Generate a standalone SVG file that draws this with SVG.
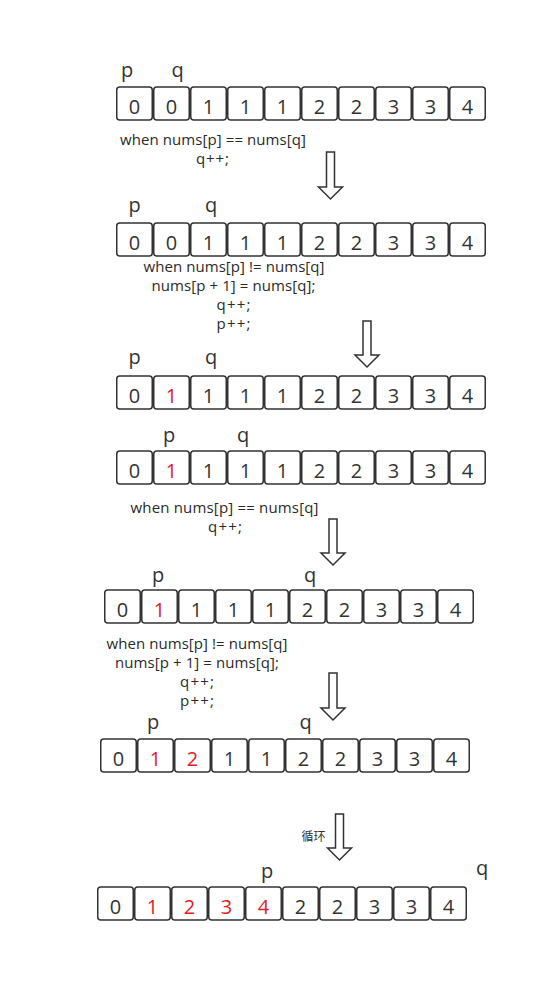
<svg xmlns="http://www.w3.org/2000/svg" width="560" height="983" viewBox="0 0 560 983">
<style>
.c{fill:#fff;stroke:#333;stroke-width:1.5}
.d{font-family:"Open Sans","Noto Sans",sans-serif;font-size:20px;fill:#333;text-anchor:middle}
.r{fill:#e3201e}
.pq{font-family:"Open Sans","Noto Sans",sans-serif;font-size:20px;fill:#333;text-anchor:middle}
.t{font-family:"Open Sans","Noto Sans",sans-serif;font-size:15px;fill:#2a2a2a}
.cn{font-family:"Noto Sans CJK SC","Noto Sans",sans-serif;font-size:12px;fill:#333}
.a{fill:#fff;stroke:#333;stroke-width:1.5;stroke-linejoin:miter}
</style>
<defs>
<g id="cell"><rect class="c" x="0.75" y="0" width="35.5" height="33" rx="3"/></g>
</defs>
<rect width="560" height="983" fill="#fff"/>

<g id="row1" transform="translate(116,87)">
<use href="#cell" x="0"/><use href="#cell" x="37"/><use href="#cell" x="74"/><use href="#cell" x="111"/><use href="#cell" x="148"/><use href="#cell" x="185"/><use href="#cell" x="222"/><use href="#cell" x="259"/><use href="#cell" x="296"/><use href="#cell" x="333"/>
<text class="d" x="18.5" y="26.5">0</text><text class="d" x="55.5" y="26.5">0</text><text class="d" x="92.5" y="26.5">1</text><text class="d" x="129.5" y="26.5">1</text><text class="d" x="166.5" y="26.5">1</text><text class="d" x="203.5" y="26.5">2</text><text class="d" x="240.5" y="26.5">2</text><text class="d" x="277.5" y="26.5">3</text><text class="d" x="314.5" y="26.5">3</text><text class="d" x="351.5" y="26.5">4</text>
</g>
<g id="ptr1"><text class="pq" x="127" y="77">p</text><text class="pq" x="177.5" y="77">q</text></g>
<g id="note1">
<text class="t" x="120" y="145" textLength="186">when nums[p] == nums[q]</text>
<text class="t" x="196" y="164" textLength="33">q++;</text>
</g>

<g id="row2" transform="translate(116,223)">
<use href="#cell" x="0"/><use href="#cell" x="37"/><use href="#cell" x="74"/><use href="#cell" x="111"/><use href="#cell" x="148"/><use href="#cell" x="185"/><use href="#cell" x="222"/><use href="#cell" x="259"/><use href="#cell" x="296"/><use href="#cell" x="333"/>
<text class="d" x="18.5" y="26.5">0</text><text class="d" x="55.5" y="26.5">0</text><text class="d" x="92.5" y="26.5">1</text><text class="d" x="129.5" y="26.5">1</text><text class="d" x="166.5" y="26.5">1</text><text class="d" x="203.5" y="26.5">2</text><text class="d" x="240.5" y="26.5">2</text><text class="d" x="277.5" y="26.5">3</text><text class="d" x="314.5" y="26.5">3</text><text class="d" x="351.5" y="26.5">4</text>
</g>
<g id="ptr2"><text class="pq" x="134.5" y="212">p</text><text class="pq" x="211" y="212">q</text></g>
<g id="note2">
<text class="t" x="143.5" y="272" textLength="181">when nums[p] != nums[q]</text>
<text class="t" x="151.5" y="291" textLength="164">nums[p + 1] = nums[q];</text>
<text class="t" x="216.5" y="310" textLength="34">q++;</text>
<text class="t" x="216.5" y="329" textLength="34">p++;</text>
</g>

<g id="row3" transform="translate(116,376)">
<use href="#cell" x="0"/><use href="#cell" x="37"/><use href="#cell" x="74"/><use href="#cell" x="111"/><use href="#cell" x="148"/><use href="#cell" x="185"/><use href="#cell" x="222"/><use href="#cell" x="259"/><use href="#cell" x="296"/><use href="#cell" x="333"/>
<text class="d" x="18.5" y="26.5">0</text><text class="d r" x="55.5" y="26.5">1</text><text class="d" x="92.5" y="26.5">1</text><text class="d" x="129.5" y="26.5">1</text><text class="d" x="166.5" y="26.5">1</text><text class="d" x="203.5" y="26.5">2</text><text class="d" x="240.5" y="26.5">2</text><text class="d" x="277.5" y="26.5">3</text><text class="d" x="314.5" y="26.5">3</text><text class="d" x="351.5" y="26.5">4</text>
</g>
<g id="ptr3"><text class="pq" x="134.5" y="364">p</text><text class="pq" x="211" y="364">q</text></g>

<g id="row4" transform="translate(116,451)">
<use href="#cell" x="0"/><use href="#cell" x="37"/><use href="#cell" x="74"/><use href="#cell" x="111"/><use href="#cell" x="148"/><use href="#cell" x="185"/><use href="#cell" x="222"/><use href="#cell" x="259"/><use href="#cell" x="296"/><use href="#cell" x="333"/>
<text class="d" x="18.5" y="26.5">0</text><text class="d r" x="55.5" y="26.5">1</text><text class="d" x="92.5" y="26.5">1</text><text class="d" x="129.5" y="26.5">1</text><text class="d" x="166.5" y="26.5">1</text><text class="d" x="203.5" y="26.5">2</text><text class="d" x="240.5" y="26.5">2</text><text class="d" x="277.5" y="26.5">3</text><text class="d" x="314.5" y="26.5">3</text><text class="d" x="351.5" y="26.5">4</text>
</g>
<g id="ptr4"><text class="pq" x="169" y="442">p</text><text class="pq" x="243" y="442">q</text></g>
<g id="note3">
<text class="t" x="130.5" y="513" textLength="188">when nums[p] == nums[q]</text>
<text class="t" x="208" y="532" textLength="34">q++;</text>
</g>

<g id="row5" transform="translate(104,590)">
<use href="#cell" x="0"/><use href="#cell" x="37"/><use href="#cell" x="74"/><use href="#cell" x="111"/><use href="#cell" x="148"/><use href="#cell" x="185"/><use href="#cell" x="222"/><use href="#cell" x="259"/><use href="#cell" x="296"/><use href="#cell" x="333"/>
<text class="d" x="18.5" y="26.5">0</text><text class="d r" x="55.5" y="26.5">1</text><text class="d" x="92.5" y="26.5">1</text><text class="d" x="129.5" y="26.5">1</text><text class="d" x="166.5" y="26.5">1</text><text class="d" x="203.5" y="26.5">2</text><text class="d" x="240.5" y="26.5">2</text><text class="d" x="277.5" y="26.5">3</text><text class="d" x="314.5" y="26.5">3</text><text class="d" x="351.5" y="26.5">4</text>
</g>
<g id="ptr5"><text class="pq" x="158" y="582">p</text><text class="pq" x="310" y="582">q</text></g>
<g id="note4">
<text class="t" x="106.5" y="649" textLength="181">when nums[p] != nums[q]</text>
<text class="t" x="115" y="668" textLength="164">nums[p + 1] = nums[q];</text>
<text class="t" x="180" y="687" textLength="34">q++;</text>
<text class="t" x="180" y="706" textLength="34">p++;</text>
</g>

<g id="row6" transform="translate(100,739)">
<use href="#cell" x="0"/><use href="#cell" x="37"/><use href="#cell" x="74"/><use href="#cell" x="111"/><use href="#cell" x="148"/><use href="#cell" x="185"/><use href="#cell" x="222"/><use href="#cell" x="259"/><use href="#cell" x="296"/><use href="#cell" x="333"/>
<text class="d" x="18.5" y="26.5">0</text><text class="d r" x="55.5" y="26.5">1</text><text class="d r" x="92.5" y="26.5">2</text><text class="d" x="129.5" y="26.5">1</text><text class="d" x="166.5" y="26.5">1</text><text class="d" x="203.5" y="26.5">2</text><text class="d" x="240.5" y="26.5">2</text><text class="d" x="277.5" y="26.5">3</text><text class="d" x="314.5" y="26.5">3</text><text class="d" x="351.5" y="26.5">4</text>
</g>
<g id="ptr6"><text class="pq" x="153" y="729">p</text><text class="pq" x="305.5" y="729">q</text></g>

<g id="row7" transform="translate(97,887)">
<use href="#cell" x="0"/><use href="#cell" x="37"/><use href="#cell" x="74"/><use href="#cell" x="111"/><use href="#cell" x="148"/><use href="#cell" x="185"/><use href="#cell" x="222"/><use href="#cell" x="259"/><use href="#cell" x="296"/><use href="#cell" x="333"/>
<text class="d" x="18.5" y="26.5">0</text><text class="d r" x="55.5" y="26.5">1</text><text class="d r" x="92.5" y="26.5">2</text><text class="d r" x="129.5" y="26.5">3</text><text class="d r" x="166.5" y="26.5">4</text><text class="d" x="203.5" y="26.5">2</text><text class="d" x="240.5" y="26.5">2</text><text class="d" x="277.5" y="26.5">3</text><text class="d" x="314.5" y="26.5">3</text><text class="d" x="351.5" y="26.5">4</text>
</g>
<g id="ptr7"><text class="pq" x="267" y="878">p</text><text class="pq" x="482" y="875">q</text></g>
<g id="loop-label"><text class="cn" x="301.5" y="841">循环</text></g>

<g id="connectors">
<path class="a" d="M326.5 152H334.5V187H342.5L330.5 199L318.5 187H326.5Z"/>
<path class="a" d="M363 321H371V355H379L367 367L355 355H363Z"/>
<path class="a" d="M329 519H337V553H345L333 565L321 553H329Z"/>
<path class="a" d="M329 673H337V708H345L333 720L321 708H329Z"/>
<path class="a" d="M335.5 814H343.5V848H351.5L339.5 860L327.5 848H335.5Z"/>
</g>
</svg>
